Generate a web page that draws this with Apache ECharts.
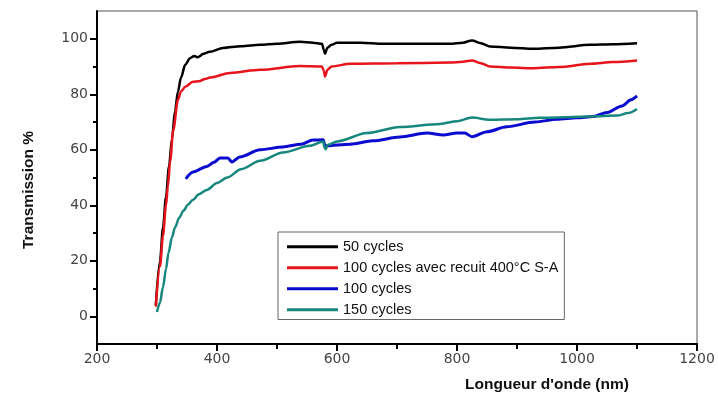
<!DOCTYPE html>
<html>
<head>
<meta charset="utf-8">
<script src="https://cdn.jsdelivr.net/npm/echarts@6/dist/echarts.min.js"></script>
<style>
html,body{margin:0;padding:0;background:#fff;}
#c{width:718px;height:401px;}
</style>
</head>
<body>
<div id="c"></div>
<script>
// ---- data ----
const seriesNames = ['50 cycles', '100 cycles avec recuit 400°C S-A', '100 cycles', '150 cycles'];

const wl50 = [298, 305, 310, 315, 320, 325, 330, 335, 340, 347, 355, 362, 368, 372, 376, 388, 410, 440, 472, 500, 538, 560, 575, 578, 580, 584, 591, 600, 640, 677, 720, 788, 810, 825, 840, 855, 890, 927, 970, 1022, 1060, 1100];
const tr50 = [4, 20, 32, 43, 54, 64, 74, 81, 86, 90.6, 93, 93.8, 93.3, 93.8, 94.5, 95.3, 96.7, 97.3, 97.8, 98.2, 98.9, 98.6, 98.2, 96, 94.6, 96.8, 97.8, 98.6, 98.6, 98.2, 98.2, 98.2, 98.6, 99.4, 98.4, 97.2, 96.8, 96.4, 96.8, 97.8, 98, 98.4];

const wl100r = [298, 305, 310, 315, 318, 322, 327, 335, 340, 347, 360, 370, 380, 388, 422, 472, 538, 575, 578, 580, 584, 591, 622, 700, 788, 810, 825, 840, 855, 890, 927, 970, 1022, 1060, 1100];
const tr100r = [3.5, 18, 29, 40, 46.6, 56, 67, 78, 81, 82.7, 84.5, 84.7, 85.5, 86, 87.7, 88.8, 90.2, 90, 88.5, 86.4, 88.8, 90, 91, 91.2, 91.4, 91.7, 92.2, 91.2, 90, 89.6, 89.4, 89.8, 91, 91.6, 92.2];

const wl100 = [348, 360, 383, 395, 405, 418, 425, 438, 472, 510, 540, 560, 577, 580, 622, 660, 705, 750, 777, 800, 813, 825, 850, 883, 930, 967, 1000, 1027, 1050, 1075, 1090, 1100];
const tr100 = [49.5, 52, 54, 55.5, 57, 57, 55.6, 57.4, 60, 61, 62, 63.5, 63.6, 61.4, 62, 63.2, 64.6, 66, 65.3, 66, 66, 64.7, 66.5, 68.3, 70, 71, 71.5, 72, 73.4, 75.8, 78, 79.4];

const wl150 = [300, 305, 310, 315, 319, 325, 330, 337, 344, 352, 360, 370, 383, 400, 417, 440, 472, 510, 555, 577, 579, 581, 585, 600, 650, 705, 772, 800, 825, 855, 900, 938, 1022, 1067, 1085, 1100];
const tr150 = [1.5, 5, 10.5, 17, 22.7, 28.5, 32, 35.5, 38, 40.3, 42, 44, 45.5, 48, 50, 53, 56, 59, 61.4, 63, 61, 60.2, 61.8, 63, 66, 68.2, 69.3, 70.3, 71.6, 70.8, 71, 71.5, 72, 72.3, 73.2, 74.7];

const xTicks = [200, 400, 600, 800, 1000, 1200];
const xMinorTicks = [300, 500, 700, 900, 1100];
const yTicks = [0, 20, 40, 60, 80, 100];
const yMinorTicks = [10, 30, 50, 70, 90];

const xTitle = "Longueur d'onde (nm)";
const yTitle = 'Transmission %';

// ---- chart ----
function pairs(xs, ys) { return xs.map((x, i) => [x, ys[i]]); }
const colors = ['#000000', '#e8141c', '#0b0bd0', '#17877e'];
const widths = [2.5, 2.5, 3, 2.5];
const dataSets = [pairs(wl50, tr50), pairs(wl100r, tr100r), pairs(wl100, tr100), pairs(wl150, tr150)];

const chart = echarts.init(document.getElementById('c'), null, {renderer: 'canvas'});
const tickFont = {fontFamily: 'DejaVu Sans', fontSize: 14, color: '#444', formatter: v => String(v)};

chart.setOption({
  animation: false,
  backgroundColor: '#fff',
  grid: {left: 97, right: 21, top: 11, bottom: 57, show: true, borderColor: '#555', borderWidth: 1, containLabel: false},
  xAxis: [{
    type: 'value', min: 200, max: 1200, position: 'bottom',
    axisLine: {show: true, onZero: false, lineStyle: {color: '#000', width: 2}},
    axisTick: {show: true, customValues: xTicks, length: 7, lineStyle: {color: '#000', width: 2}},
    axisLabel: {customValues: xTicks, margin: 8, ...tickFont},
    splitLine: {show: false}
  }, {
    type: 'value', min: 200, max: 1200, position: 'bottom',
    axisLine: {show: false, onZero: false},
    axisTick: {show: true, customValues: xMinorTicks, length: 5, lineStyle: {color: '#000', width: 2}},
    axisLabel: {show: false},
    splitLine: {show: false}
  }],
  yAxis: [{
    type: 'value', min: -10, max: 110, position: 'left',
    axisLine: {show: true, onZero: false, lineStyle: {color: '#000', width: 2}},
    axisTick: {show: true, customValues: yTicks, length: 7, lineStyle: {color: '#000', width: 2}},
    axisLabel: {customValues: yTicks, margin: 9, ...tickFont},
    splitLine: {show: false}
  }, {
    type: 'value', min: -10, max: 110, position: 'left',
    axisLine: {show: false, onZero: false},
    axisTick: {show: true, customValues: yMinorTicks, length: 4, lineStyle: {color: '#000', width: 2}},
    axisLabel: {show: false},
    splitLine: {show: false}
  }],
  legend: {
    data: seriesNames,
    orient: 'vertical',
    left: 278, top: 232,
    padding: [5, 6, 0, 9],
    itemGap: 1.5,
    itemWidth: 51, itemHeight: 3,
    icon: 'rect',
    backgroundColor: '#fff',
    borderColor: '#666', borderWidth: 1, borderRadius: 0,
    textStyle: {fontFamily: 'Liberation Sans', fontSize: 14.5, color: '#111', lineHeight: 19.5}
  },
  graphic: [
    {type: 'text', x: 547, y: 385, style: {text: xTitle, font: 'bold 15.5px "Liberation Sans"', fill: '#111', textAlign: 'center', textVerticalAlign: 'middle'}},
    {type: 'text', x: 29, y: 190, rotation: Math.PI / 2, style: {text: yTitle, font: 'bold 15.5px "Liberation Sans"', fill: '#111', textAlign: 'center', textVerticalAlign: 'middle'}}
  ],
  series: seriesNames.map((n, i) => ({
    name: n,
    type: 'line',
    xAxisIndex: 0, yAxisIndex: 0,
    data: dataSets[i],
    showSymbol: false, symbol: 'none',
    smooth: 0.3, smoothMonotone: 'x',
    color: colors[i],
    lineStyle: {color: colors[i], width: widths[i]},
    z: 2 + i
  }))
});
</script>
</body>
</html>
